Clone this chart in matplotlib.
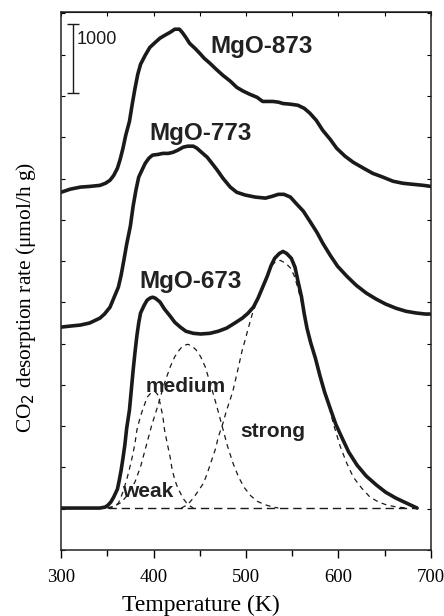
import numpy as np
import matplotlib.pyplot as plt
from matplotlib.ticker import MultipleLocator

# CO2-TPD profiles, heights above each trace's own baseline
T673 = [300, 342, 348, 351, 354, 357, 361, 363, 365, 367, 369, 371, 374, 376, 378,
        380, 382, 384, 386, 390, 393, 396, 399, 402, 407, 412, 418, 423, 429, 435,
        443, 451, 461, 470, 479, 488, 496, 502, 508, 513, 518, 523, 527, 531, 536,
        540, 544, 549, 553, 556, 560, 563, 566, 570, 575, 580, 585, 591, 597, 604,
        611, 620, 630, 641, 651, 662, 673, 685]
r673 = [0, 0, 15, 45, 90, 160, 275, 405, 550, 725, 915, 1160, 1425, 1715, 2005,
        2265, 2500, 2690, 2835, 2950, 3020, 3050, 3065, 3050, 2995, 2890, 2790, 2700, 2630, 2570,
        2540, 2530, 2540, 2570, 2615, 2690, 2760, 2830, 2920, 3050, 3210, 3370, 3520, 3630, 3700,
        3730, 3700, 3630, 3500, 3310, 3070, 2820, 2610, 2400, 2180, 1920, 1685, 1450, 1220, 1015,
        815, 625, 465, 335, 230, 145, 75, 0]

T773 = [300, 310, 321, 331, 342, 347, 353, 357, 362, 365, 368, 371, 375, 378, 381,
        384, 388, 391, 395, 399, 405, 410, 416, 421, 426, 432, 437, 443, 447, 452,
        458, 463, 469, 475, 483, 490, 499, 510, 521, 528, 535, 541, 548, 554, 562,
        569, 577, 583, 591, 599, 609, 619, 630, 641, 651, 662, 673, 684, 694, 700]
r773 = [0, 15, 30, 60, 130, 190, 290, 420, 580, 755, 975, 1205, 1470, 1760, 1990,
        2180, 2295, 2380, 2455, 2500, 2510, 2525, 2525, 2540, 2570, 2615, 2630, 2630, 2600, 2540,
        2470, 2385, 2280, 2165, 2035, 1960, 1920, 1890, 1875, 1900, 1930, 1930, 1890, 1800, 1685,
        1540, 1370, 1220, 1045, 885, 740, 610, 495, 405, 335, 275, 230, 205, 190, 190]

T873 = [300, 310, 321, 331, 342, 348, 353, 357, 361, 364, 367, 370, 374, 377, 380,
        383, 386, 391, 396, 402, 407, 412, 418, 423, 428, 431, 435, 439, 445, 450,
        455, 461, 468, 475, 483, 490, 497, 504, 512, 518, 524, 529, 535, 540, 548,
        556, 563, 569, 576, 583, 591, 598, 607, 616, 627, 637, 648, 659, 670, 681,
        692, 700]
r873 = [0, 45, 75, 85, 100, 130, 175, 245, 350, 480, 640, 830, 1030, 1280, 1510,
        1715, 1860, 1990, 2105, 2180, 2240, 2280, 2325, 2370, 2370, 2325, 2250, 2165, 2090, 2020,
        1945, 1875, 1785, 1700, 1615, 1525, 1470, 1425, 1380, 1320, 1320, 1320, 1310, 1290, 1280,
        1265, 1220, 1150, 1045, 900, 770, 640, 525, 435, 350, 275, 220, 160, 130, 115,
        100, 85]

# vertical offsets of the stacked traces
off673 = 610
off773 = 3240
off873 = 5200

# deconvoluted components of MgO-673
Tweak = [351, 357, 362, 366, 371, 374, 377, 380, 382, 385, 388, 391, 393, 397, 402,
         405, 407, 410, 412, 415, 418, 420, 423, 426, 429, 432, 436, 440, 443]
rweak = [0, 20, 70, 200, 410, 570, 740, 940, 1130, 1290, 1420, 1530, 1610, 1670, 1690,
         1640, 1530, 1340, 1130, 930, 740, 570, 410, 300, 220, 140, 70, 25, 0]

Tmed = [350, 358, 365, 372, 380, 386, 392, 398, 405, 411, 418, 423, 428, 432, 437,
        441, 446, 451, 456, 462, 468, 474, 480, 486, 492, 498, 505, 512, 520, 528, 535]
rmed = [0, 30, 80, 190, 380, 600, 900, 1200, 1500, 1780, 2050, 2200, 2300, 2360, 2380,
        2360, 2300, 2200, 2050, 1780, 1500, 1200, 900, 650, 450, 300, 180, 100, 50, 20, 0]

Tstr = [430, 437, 443, 448, 454, 458, 463, 467, 470, 475, 479, 483, 486, 491, 496,
        499, 503, 507, 513, 519, 523, 528, 532, 537, 543, 548, 552, 555, 560, 564,
        570, 575, 581, 588, 595, 602, 609, 616, 625, 634, 643, 652, 663, 674]
rstr = [0, 50, 145, 240, 360, 500, 700, 860, 1030, 1230, 1420, 1580, 1710, 2000, 2300,
        2440, 2640, 2830, 3050, 3240, 3390, 3530, 3580, 3600, 3560, 3490, 3380, 3250, 3000, 2730,
        2420, 2150, 1850, 1570, 1200, 890, 650, 450, 290, 160, 90, 45, 15, 0]

Tbase = [351, 685]

ink = '#1a1a1a'
serif = ['Liberation Serif', 'DejaVu Serif']
sans = ['Liberation Sans', 'DejaVu Sans']

fig = plt.figure(figsize=(4.44, 6.16), dpi=100)
ax = fig.add_axes([0.1374, 0.1071, 0.8333, 0.8734])

for T, r, off in [(T673, r673, off673), (T773, r773, off773), (T873, r873, off873)]:
    ax.plot(T, np.array(r) + off, color=ink, lw=2.6, solid_joinstyle='round', solid_capstyle='round')

for T, r in [(Tweak, rweak), (Tmed, rmed), (Tstr, rstr)]:
    ax.plot(T, np.array(r) + off673, color=ink, lw=0.9, dashes=(4, 3.5))
ax.plot(Tbase, [off673, off673], color=ink, lw=1.0, dashes=(6, 3.5))

# scale bar
ax.errorbar([313], [7150], yerr=[500], color=ink, lw=1.0, capsize=4, capthick=1.0)
ax.text(317, 7425, '1000', fontsize=13, family=sans, color=ink, va='center', ha='left')

lab = dict(fontsize=17.5, fontweight='bold', family=sans, color='#222222', va='baseline', ha='left')
ax.text(461, 7220, 'MgO-873', **lab)
ax.text(396, 5960, 'MgO-773', **lab)
ax.text(385, 3810, 'MgO-673', **lab)
sm = dict(fontsize=15, fontweight='bold', family=sans, color='#222222', va='baseline', ha='left')
ax.text(391, 2300, 'medium', **sm)
ax.text(366, 770, 'weak', **sm)
ax.text(494, 1640, 'strong', **sm)

ax.set_xlim(300, 700)
ax.set_ylim(0, 7820)
ax.xaxis.set_major_locator(MultipleLocator(100))
ax.xaxis.set_minor_locator(MultipleLocator(50))
ax.yaxis.set_major_locator(MultipleLocator(600))
ax.set_yticklabels([])
ax.tick_params(axis='x', which='major', direction='out', length=6, width=1, labelsize=13.5, pad=8)
ax.tick_params(axis='x', which='minor', direction='out', length=4, width=1)
ax.tick_params(axis='y', which='both', direction='in', length=3, width=0.8, left=True, right=True)
for lbl in ax.get_xticklabels():
    lbl.set_family(serif)

top = ax.secondary_xaxis('top')
top.xaxis.set_major_locator(MultipleLocator(100))
top.xaxis.set_minor_locator(MultipleLocator(50))
top.tick_params(which='both', direction='in', length=3, width=0.8, labeltop=False)

for s in ax.spines.values():
    s.set_linewidth(1.1)
    s.set_color('#222222')

fig.text(201 / 444, 5 / 616, 'Temperature (K)', fontsize=17, family=serif,
         ha='center', va='baseline')
fig.text(26 / 444, 1 - 297 / 616, 'CO$_2$ desorption rate ($\\mathregular{\\mu}$mol/h g)',
         fontsize=15.4, family=serif, rotation=90, ha='center', va='center')

plt.savefig('out.png', dpi=100)
